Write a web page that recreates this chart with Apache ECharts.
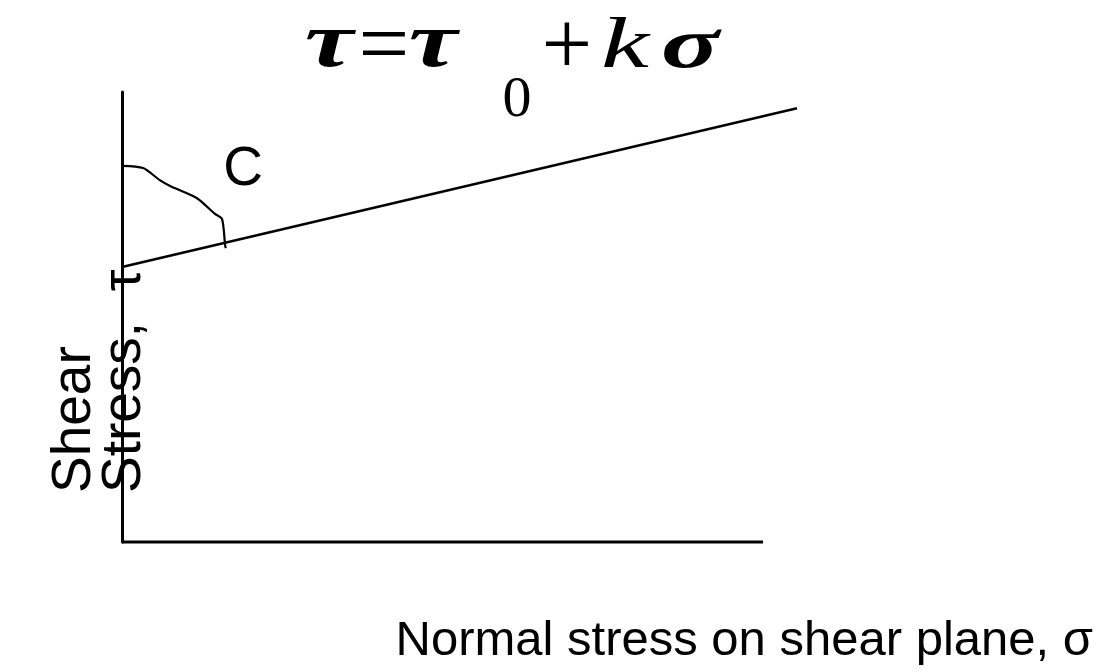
<!DOCTYPE html>
<html>
<head>
<meta charset="utf-8">
<script src="https://cdn.jsdelivr.net/npm/echarts@6/dist/echarts.min.js"></script>
<style>
  html, body { margin: 0; padding: 0; background: #fff; }
  #chart { width: 1108px; height: 672px; }
</style>
</head>
<body>
<div id="chart"></div>
<script>
// Mohr-Coulomb failure envelope: shear strength grows linearly with normal stress
const envelopeSigma = [0, 105.3];
const envelopeTau = [61.1, 96.4];

// hand-drawn arc marking the angle between the vertical axis and the envelope
const arcSigma = [0, 3.3, 5.9, 7.5, 11.7, 14.5, 15.6, 16.1, 16.2];
const arcTau = [83.6, 83.1, 80.4, 79.1, 76.4, 72.9, 71.8, 65.8, 65.3];

// horizontal (normal stress) axis runs from 0 to 100
const baseSigma = [0, 100];
const baseTau = [0, 0];

const xAxisName = 'Normal stress on shear plane, σ';
const yAxisLines = ['Shear', 'Stress,  τ'];
const angleLabel = 'C';

const toPairs = (xs, ys) => xs.map((x, i) => [x, ys[i]]);

const SANS = "'Liberation Sans', Arial, Helvetica, sans-serif";
const SERIF = "'Liberation Serif', 'Times New Roman', serif";

// pieces of the equation  τ = τ0 + kσ
function formulaPiece(text, cx, cy, opts) {
  return {
    type: 'text',
    x: cx, y: cy,
    scaleX: opts.stretch || 1,
    style: {
      text: text,
      fontFamily: SERIF,
      fontSize: opts.size || 72,
      fontStyle: opts.italic ? 'italic' : 'normal',
      fontWeight: opts.bold ? 'bold' : 'normal',
      fill: '#000',
      align: 'center',
      verticalAlign: 'middle'
    }
  };
}

function sideLabel(text, cx, size) {
  return {
    type: 'text',
    x: cx, y: 493,
    rotation: Math.PI / 2,
    style: {
      text: text,
      font: size + 'px ' + SANS,
      fill: '#000',
      align: 'left',
      verticalAlign: 'middle'
    }
  };
}

const chart = echarts.init(document.getElementById('chart'), null, { renderer: 'canvas' });

chart.setOption({
  backgroundColor: '#fff',
  animation: false,
  grid: { left: 122, right: 311, top: 92, bottom: 130 },
  xAxis: {
    type: 'value',
    min: 0,
    max: 105.3,
    axisLine: { show: false },
    axisTick: { show: false },
    axisLabel: { show: false },
    splitLine: { show: false }
  },
  yAxis: {
    type: 'value',
    min: 0,
    max: 100,
    axisLine: { show: true, onZero: false, lineStyle: { color: '#000', width: 3 } },
    axisTick: { show: false },
    axisLabel: { show: false },
    splitLine: { show: false }
  },
  graphic: [
    formulaPiece('τ', 329, 46, { italic: true, bold: true, stretch: 1.4, size: 78 }),
    formulaPiece('=', 384, 50, { size: 90 }),
    formulaPiece('τ', 433, 46, { italic: true, bold: true, stretch: 1.4, size: 78 }),
    formulaPiece('0', 517, 101, { size: 58 }),
    formulaPiece('+', 567, 50, { size: 90 }),
    formulaPiece('k', 625, 48, { italic: true, stretch: 1.5 }),
    formulaPiece('σ', 690, 48, { italic: true, bold: true, stretch: 1.5 }),
    {
      type: 'text',
      x: 243, y: 170,
      style: {
        text: angleLabel,
        font: '55px ' + SANS,
        fill: '#000',
        align: 'center',
        verticalAlign: 'middle'
      }
    },
    {
      type: 'text',
      x: 1093, y: 641,
      style: {
        text: xAxisName,
        font: '49px ' + SANS,
        fill: '#000',
        align: 'right',
        verticalAlign: 'middle'
      }
    },
    sideLabel(yAxisLines[0], 75, 55),
    sideLabel(yAxisLines[1], 125, 55)
  ],
  series: [
    {
      name: 'baseline',
      type: 'line',
      data: toPairs(baseSigma, baseTau),
      clip: false,
      symbol: 'none',
      lineStyle: { color: '#000', width: 3 }
    },
    {
      name: 'envelope',
      type: 'line',
      data: toPairs(envelopeSigma, envelopeTau),
      clip: false,
      symbol: 'none',
      lineStyle: { color: '#000', width: 2.5 }
    },
    {
      name: 'angle',
      type: 'line',
      data: toPairs(arcSigma, arcTau),
      clip: false,
      smooth: 0.25,
      symbol: 'none',
      lineStyle: { color: '#000', width: 2.2 }
    }
  ]
});
</script>
</body>
</html>
